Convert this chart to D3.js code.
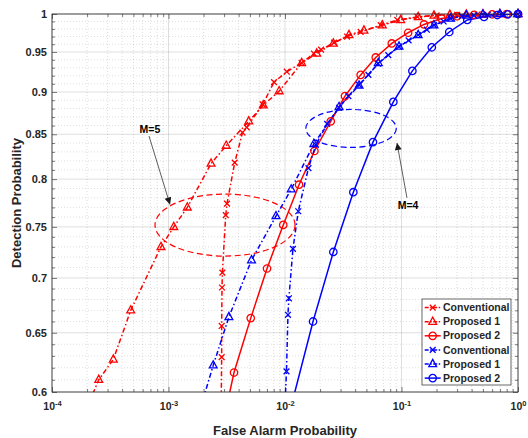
<!DOCTYPE html>
<html>
<head>
<meta charset="utf-8">
<script src="https://cdn.jsdelivr.net/npm/d3@7"></script>
<style>
  body { margin: 0; background: #fff; }
  text { font-family: "Liberation Sans", Arial, sans-serif; font-weight: bold; fill: #262626; }
</style>
</head>
<body>
<div id="chart"></div>
<script>
// tick values
const xTicks = [1e-4, 1e-3, 1e-2, 1e-1, 1];
const yTicks = [0.6, 0.65, 0.7, 0.75, 0.8, 0.85, 0.9, 0.95, 1];

// M=5 (red)
const conv5Pfa = [2.83e-3, 2.86e-3, 2.86e-3, 2.88e-3, 2.9e-3, 3.1e-3, 3.18e-3, 3.7e-3, 4.32e-3, 4.69e-3, 6.44e-3, 8.05e-3, 1.035e-2, 1.39e-2, 1.77e-2, 2.04e-2, 2.64e-2, 3.41e-2, 4.46e-2, 6.63e-2, 9.2e-2, 0.137, 0.2, 0.3, 0.45, 0.65, 1];
const conv5Pd  = [0.585, 0.629, 0.656, 0.691, 0.705, 0.762, 0.774, 0.818, 0.852, 0.858, 0.885, 0.912, 0.925, 0.936, 0.948, 0.953, 0.962, 0.970, 0.976, 0.985, 0.992, 0.996, 0.998, 0.999, 0.9995, 0.9998, 1];
const prop1_5Pfa = [2.05e-4, 2.52e-4, 3.36e-4, 4.74e-4, 8.62e-4, 1.11e-3, 1.45e-3, 2.32e-3, 3.13e-3, 4.89e-3, 6.51e-3, 8.91e-3, 1.39e-2, 1.87e-2, 2.6e-2, 3.54e-2, 4.76e-2, 6.84e-2, 9.84e-2, 0.139, 0.19, 0.26, 0.36, 0.5, 0.7, 1];
const prop1_5Pd  = [0.59, 0.610, 0.627, 0.670, 0.730, 0.750, 0.770, 0.817, 0.837, 0.865, 0.884, 0.901, 0.936, 0.948, 0.961, 0.972, 0.978, 0.985, 0.992, 0.996, 0.998, 0.999, 0.9995, 0.9998, 0.9999, 1];
const prop2_5Pfa = [3.1e-3, 3.65e-3, 5.08e-3, 7.01e-3, 9.66e-3, 1.32e-2, 1.79e-2, 2.47e-2, 3.27e-2, 4.46e-2, 6.01e-2, 8.25e-2, 0.114, 0.156, 0.22, 0.3, 0.42, 0.6, 0.8, 1];
const prop2_5Pd  = [0.585, 0.616, 0.663, 0.709, 0.752, 0.794, 0.831, 0.865, 0.895, 0.921, 0.943, 0.961, 0.975, 0.986, 0.994, 0.997, 0.999, 0.9996, 0.9999, 1];

// M=4 (blue)
const conv4Pfa = [1.0e-2, 1.03e-2, 1.06e-2, 1.08e-2, 1.17e-2, 1.30e-2, 1.59e-2, 1.84e-2, 2.3e-2, 2.91e-2, 3.5e-2, 4.3e-2, 5.2e-2, 6.3e-2, 7.7e-2, 9.5e-2, 0.115, 0.139, 0.165, 0.19, 0.23, 0.264, 0.33, 0.42, 0.55, 0.75, 1];
const conv4Pd  = [0.59, 0.617, 0.666, 0.681, 0.728, 0.766, 0.812, 0.838, 0.862, 0.881, 0.895, 0.909, 0.921, 0.935, 0.946, 0.957, 0.965, 0.972, 0.979, 0.985, 0.990, 0.994, 0.997, 0.998, 0.999, 0.9997, 1];
const prop1_4Pfa = [1.85e-3, 2.42e-3, 3.30e-3, 5.16e-3, 8.37e-3, 1.13e-2, 1.77e-2, 2.91e-2, 4.32e-2, 6.32e-2, 9.52e-2, 0.139, 0.19, 0.264, 0.36, 0.5, 0.7, 1];
const prop1_4Pd  = [0.585, 0.622, 0.664, 0.717, 0.761, 0.789, 0.839, 0.882, 0.908, 0.936, 0.957, 0.972, 0.985, 0.994, 0.998, 0.9995, 0.9999, 1];
const prop2_4Pfa = [1.14e-2, 1.74e-2, 2.60e-2, 3.86e-2, 5.69e-2, 8.51e-2, 0.124, 0.182, 0.257, 0.367, 0.511, 0.664, 0.82, 1];
const prop2_4Pd  = [0.59, 0.660, 0.725, 0.786, 0.841, 0.888, 0.926, 0.956, 0.976, 0.992, 0.996, 0.9986, 0.9996, 1];

const seriesNames = ["Conventional", "Proposed 1", "Proposed 2", "Conventional", "Proposed 1", "Proposed 2"];

const W = 528, H = 438;
const margin = { top: 14, right: 10, bottom: 46, left: 52 },
  width = W - margin.left - margin.right,
  height = H - margin.top - margin.bottom;

const svg = d3.select("#chart").append("svg")
    .attr("width", W)
    .attr("height", H)
  .append("g")
    .attr("transform", "translate(" + margin.left + "," + margin.top + ")");

const x = d3.scaleLog().domain([1e-4, 1]).range([0, width]);
const y = d3.scaleLog().domain([0.6, 1]).range([height, 0]);

// minor tick positions
const xMinor = [];
for (let k = -4; k < 0; k++) for (let m = 2; m <= 9; m++) xMinor.push(m * Math.pow(10, k));
const yMinor = d3.range(61, 100).filter(v => v % 5 !== 0).map(v => v / 100);

// grid
const grid = svg.append("g");
grid.selectAll(".xminor").data(xMinor).join("line")
    .attr("x1", d => x(d)).attr("x2", d => x(d)).attr("y1", 0).attr("y2", height)
    .attr("stroke", "#262626").attr("stroke-opacity", 0.25).attr("stroke-dasharray", "1,2").attr("stroke-width", 0.6);
grid.selectAll(".yminor").data(yMinor).join("line")
    .attr("y1", d => y(d)).attr("y2", d => y(d)).attr("x1", 0).attr("x2", width)
    .attr("stroke", "#262626").attr("stroke-opacity", 0.25).attr("stroke-dasharray", "1,2").attr("stroke-width", 0.6);
grid.selectAll(".xmajor").data(xTicks).join("line")
    .attr("x1", d => x(d)).attr("x2", d => x(d)).attr("y1", 0).attr("y2", height)
    .attr("stroke", "#262626").attr("stroke-opacity", 0.15);
grid.selectAll(".ymajor").data(yTicks).join("line")
    .attr("y1", d => y(d)).attr("y2", d => y(d)).attr("x1", 0).attr("x2", width)
    .attr("stroke", "#262626").attr("stroke-opacity", 0.15);

// axes (ticks point inward)
function styleAxis(g) {
  g.select(".domain").remove();
  g.selectAll(".tick line").attr("stroke", "#262626").attr("stroke-width", 0.6);
  g.attr("font-size", null).attr("font-family", null);
}
const gx = svg.append("g").attr("transform", "translate(0," + height + ")")
    .call(d3.axisBottom(x).tickValues(xTicks).tickSize(-5).tickPadding(11))
    .call(styleAxis);
gx.selectAll(".tick text").each(function(d) {
  const t = d3.select(this);
  t.text(null).attr("font-size", 10.5);
  t.append("tspan").text("10");
  t.append("tspan").attr("dy", "-0.55em").attr("font-size", 7.5).text(Math.round(Math.log10(d)));
});
svg.append("g").attr("transform", "translate(0," + height + ")")
    .call(d3.axisBottom(x).tickValues(xMinor).tickSize(-3).tickFormat(""))
    .call(styleAxis);

svg.append("g")
    .call(d3.axisLeft(y).tickValues(yTicks).tickSize(-5).tickPadding(5).tickFormat(d3.format("~g")))
    .call(styleAxis)
    .selectAll(".tick text").attr("font-size", 11);
svg.append("g")
    .call(d3.axisLeft(y).tickValues(yMinor).tickSize(-3).tickFormat(""))
    .call(styleAxis);

svg.append("g")
    .call(d3.axisTop(x).tickValues(xTicks).tickSize(-5).tickFormat(""))
    .call(styleAxis);
svg.append("g")
    .call(d3.axisTop(x).tickValues(xMinor).tickSize(-3).tickFormat(""))
    .call(styleAxis);
svg.append("g").attr("transform", "translate(" + width + ",0)")
    .call(d3.axisRight(y).tickValues(yTicks).tickSize(-5).tickFormat(""))
    .call(styleAxis);
svg.append("g").attr("transform", "translate(" + width + ",0)")
    .call(d3.axisRight(y).tickValues(yMinor).tickSize(-3).tickFormat(""))
    .call(styleAxis);

// series
const series = [
  { name: seriesNames[0], pfa: conv5Pfa, pd: conv5Pd, color: "#ff0000", dash: "5,2.5,1.5,2.5", marker: "x" },
  { name: seriesNames[1], pfa: prop1_5Pfa, pd: prop1_5Pd, color: "#ff0000", dash: "5,2.5,1.5,2.5", marker: "tri" },
  { name: seriesNames[2], pfa: prop2_5Pfa, pd: prop2_5Pd, color: "#ff0000", dash: null, marker: "circ" },
  { name: seriesNames[3], pfa: conv4Pfa, pd: conv4Pd, color: "#0000ff", dash: "5,2.5,1.5,2.5", marker: "x" },
  { name: seriesNames[4], pfa: prop1_4Pfa, pd: prop1_4Pd, color: "#0000ff", dash: "5,2.5,1.5,2.5", marker: "tri" },
  { name: seriesNames[5], pfa: prop2_4Pfa, pd: prop2_4Pd, color: "#0000ff", dash: null, marker: "circ" }
];
series.forEach(s => { s.values = s.pfa.map((v, i) => [v, s.pd[i]]); });

svg.append("clipPath").attr("id", "clip")
  .append("rect").attr("width", width).attr("height", height);

const line = d3.line().x(d => x(d[0])).y(d => y(d[1]));

// dashed ellipses marking the two groups
const ellipses = [
  { x0: 7.66e-4, x1: 1.22e-2, y0: 0.721, y1: 0.784, color: "#ff0000" },
  { x0: 1.51e-2, x1: 9.02e-2, y0: 0.835, y1: 0.879, color: "#0000ff" }
];
svg.selectAll(".ell").data(ellipses).join("ellipse")
    .attr("cx", d => (x(d.x0) + x(d.x1)) / 2)
    .attr("cy", d => (y(d.y0) + y(d.y1)) / 2)
    .attr("rx", d => (x(d.x1) - x(d.x0)) / 2)
    .attr("ry", d => (y(d.y0) - y(d.y1)) / 2)
    .attr("fill", "none")
    .attr("stroke", d => d.color)
    .attr("stroke-width", 1.2)
    .attr("stroke-dasharray", "6,3.5");

svg.append("g").attr("clip-path", "url(#clip)")
  .selectAll("path").data(series).join("path")
    .attr("d", d => line(d.values))
    .attr("fill", "none")
    .attr("stroke", d => d.color)
    .attr("stroke-width", 1.5)
    .attr("stroke-dasharray", d => d.dash);

function markerPath(type) {
  if (type === "tri") return "M0,-4.6L3.9,2.6L-3.9,2.6Z";
  if (type === "circ") return "M3.7,0A3.7,3.7 0 1,1 -3.7,0A3.7,3.7 0 1,1 3.7,0Z";
  return "M-2.9,-2.9L2.9,2.9M-2.9,2.9L2.9,-2.9";
}

series.forEach(s => {
  svg.append("g").selectAll("path")
    .data(s.values.filter(d => d[1] >= 0.6))
    .join("path")
      .attr("transform", d => "translate(" + x(d[0]) + "," + y(d[1]) + ")")
      .attr("d", markerPath(s.marker))
      .attr("fill", "none")
      .attr("stroke", s.color)
      .attr("stroke-width", 1.3);
});

// box
svg.append("rect")
    .attr("width", width).attr("height", height)
    .attr("fill", "none").attr("stroke", "#262626").attr("stroke-width", 0.8);

// annotations
const notes = [
  { label: "M=5", tx: 6.93e-4, ty: 0.856, sx: 6.8e-4, sy: 0.848, ex: 1.03e-3, ey: 0.773 },
  { label: "M=4", tx: 0.1138, ty: 0.772, sx: 0.1114, sy: 0.780, ex: 0.0915, ey: 0.840 }
];
svg.append("defs").append("marker")
    .attr("id", "arrow")
    .attr("viewBox", "0 0 10 10")
    .attr("refX", 10).attr("refY", 5)
    .attr("markerWidth", 9).attr("markerHeight", 7)
    .attr("markerUnits", "userSpaceOnUse")
    .attr("orient", "auto")
  .append("path").attr("d", "M0,0L10,5L0,10Z").attr("fill", "#1a1a1a");
svg.selectAll(".note-line").data(notes).join("line")
    .attr("x1", d => x(d.sx)).attr("y1", d => y(d.sy))
    .attr("x2", d => x(d.ex)).attr("y2", d => y(d.ey))
    .attr("stroke", "#1a1a1a").attr("stroke-width", 0.7)
    .attr("marker-end", "url(#arrow)");
svg.selectAll(".note-text").data(notes).join("text")
    .attr("x", d => x(d.tx)).attr("y", d => y(d.ty))
    .attr("text-anchor", "middle")
    .attr("dy", "0.35em")
    .attr("font-size", 10.5)
    .style("fill", "#000")
    .text(d => d.label);

// legend
const legW = 89, legH = 86, rowH = 14.1;
const legend = svg.append("g")
    .attr("transform", "translate(" + (width - legW - 7) + "," + (height - legH - 7) + ")");
legend.append("rect")
    .attr("width", legW).attr("height", legH)
    .attr("fill", "#fff").attr("stroke", "#262626").attr("stroke-width", 0.7);
const rows = legend.selectAll(".row").data(series).join("g")
    .attr("transform", (d, i) => "translate(0," + (8.6 + i * rowH) + ")");
rows.append("line")
    .attr("x1", 2.7).attr("x2", 18.7)
    .attr("stroke", d => d.color).attr("stroke-width", 1.5)
    .attr("stroke-dasharray", d => d.dash ? "4,1.5,1.5,1.5" : null);
rows.append("path")
    .attr("transform", "translate(10.7,0)")
    .attr("d", d => markerPath(d.marker))
    .attr("fill", "none").attr("stroke", d => d.color).attr("stroke-width", 1.3);
rows.append("text")
    .attr("x", 21).attr("dy", "0.35em")
    .attr("font-size", 10.5)
    .text(d => d.name);

// axis titles
svg.append("text")
    .attr("x", width / 2).attr("y", height + 43)
    .attr("text-anchor", "middle").attr("font-size", 13)
    .text("False Alarm Probability");
svg.append("text")
    .attr("transform", "rotate(-90)")
    .attr("x", -height / 2).attr("y", -31)
    .attr("text-anchor", "middle").attr("font-size", 13)
    .text("Detection Probability");
</script>
</body>
</html>
